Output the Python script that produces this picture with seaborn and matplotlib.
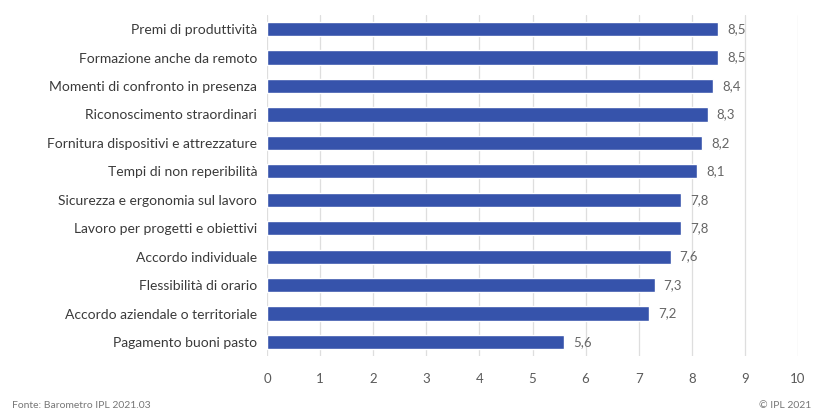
import matplotlib
matplotlib.use("Agg")
import matplotlib.pyplot as plt
import seaborn as sns
import pandas as pd

categories = [
    "Premi di produttività",
    "Formazione anche da remoto",
    "Momenti di confronto in presenza",
    "Riconoscimento straordinari",
    "Fornitura dispositivi e attrezzature",
    "Tempi di non reperibilità",
    "Sicurezza e ergonomia sul lavoro",
    "Lavoro per progetti e obiettivi",
    "Accordo individuale",
    "Flessibilità di orario",
    "Accordo aziendale o territoriale",
    "Pagamento buoni pasto",
]
values = [8.5, 8.5, 8.4, 8.3, 8.2, 8.1, 7.8, 7.8, 7.6, 7.3, 7.2, 5.6]
xticks = [0, 1, 2, 3, 4, 5, 6, 7, 8, 9, 10]

sns.set_theme(style="white")
plt.rcParams["font.family"] = ["Lato", "DejaVu Sans"]

df = pd.DataFrame({"cat": categories, "val": values})

fig = plt.figure(figsize=(8.18, 4.13), dpi=100)
ax = fig.add_axes([0.3264, 0.1375, 0.6492, 0.8265])
sns.barplot(data=df, x="val", y="cat", color="#3653ab", saturation=1,
            width=0.5, ax=ax, zorder=3)

ax.set_xlim(0, 10)
ax.set_ylim(11.5, -0.5)
ax.set_xticks(xticks)
ax.set_xticklabels([str(t) for t in xticks])
ax.set_xlabel("")
ax.set_ylabel("")
ax.grid(axis="x", color="#dedede", linewidth=0.9, zorder=0)
for s in ax.spines.values():
    s.set_visible(False)
ax.tick_params(axis="x", length=0, pad=12, labelsize=9.5, labelcolor="#5a5a5a")
ax.tick_params(axis="y", length=0, pad=7, labelsize=10, labelcolor="#3a3a3a")

for i, v in enumerate(values):
    ax.text(v + 0.17, i, f"{v:.1f}".replace(".", ","), va="center", ha="left",
            fontsize=9.5, color="#666666")

fig.text(0.015, 0.018, "Fonte: Barometro IPL 2021.03", fontsize=7.5, color="#777777",
         ha="left", va="center")
fig.text(0.992, 0.018, "© IPL 2021", fontsize=7.5, color="#777777",
         ha="right", va="center")

fig.savefig("out.png", dpi=100)
